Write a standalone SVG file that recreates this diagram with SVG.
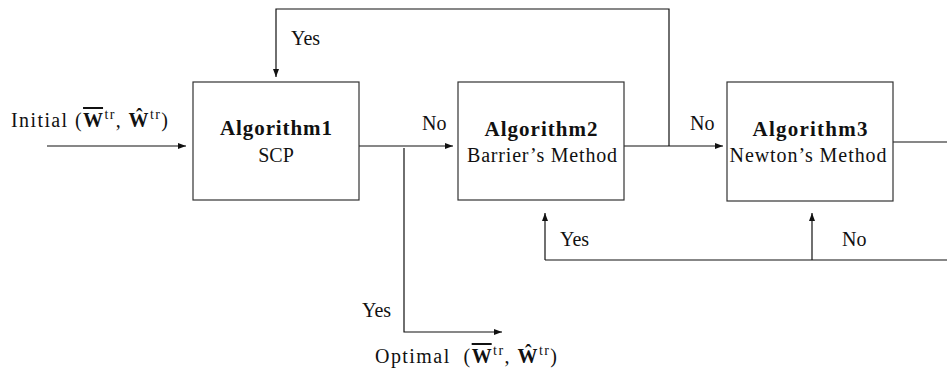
<svg xmlns="http://www.w3.org/2000/svg" width="947" height="372" viewBox="0 0 947 372">
<defs>
<marker id="ah" viewBox="0 0 8 6" refX="8" refY="3" markerWidth="8" markerHeight="6" markerUnits="userSpaceOnUse" orient="auto">
<path d="M0,0 L8,3 L0,6 z" fill="#111"/>
</marker>
<style>
.box{fill:#fff;stroke:#333;stroke-width:1.2}
.ln{fill:none;stroke:#111;stroke-width:1.2}
.arr{fill:none;stroke:#111;stroke-width:1.2;marker-end:url(#ah)}
text{font-family:"Liberation Serif","DejaVu Serif",serif;font-size:20px;fill:#111}
.b{font-weight:bold;font-size:21px}
.sup{font-size:14px}
.ov{text-decoration:overline}
</style>
</defs>
<rect width="947" height="372" fill="#fff"/>
<g id="connectors">
<line class="arr" x1="47" y1="146" x2="186" y2="146"/>
<line class="arr" x1="359" y1="146" x2="453" y2="146"/>
<line class="arr" x1="624" y1="146" x2="723" y2="146"/>
<polyline class="arr" points="669,146 669,9 276,9 276,77"/>
<line class="ln" x1="893" y1="142" x2="947" y2="142"/>
<line class="ln" x1="545" y1="260" x2="947" y2="260"/>
<line class="arr" x1="545" y1="260" x2="545" y2="213"/>
<line class="arr" x1="812" y1="260" x2="812" y2="213"/>
<polyline class="arr" points="404,148 404,332 502,332"/>
</g>
<g id="labels">
<text x="11" y="127" textLength="157">Initial (<tspan class="b ov" style="font-size:20px">W</tspan><tspan class="sup" dy="-8">tr</tspan><tspan dy="8">, </tspan><tspan class="b" style="font-size:20px">Ŵ</tspan><tspan class="sup" dy="-8">tr</tspan><tspan dy="8">)</tspan></text>
<text x="291" y="45">Yes</text>
<text x="422" y="130">No</text>
<text x="690" y="130">No</text>
<text x="560" y="246">Yes</text>
<text x="842" y="246">No</text>
<text x="362" y="317">Yes</text>
<text x="375" y="363" textLength="182">Optimal&#160;&#160;(<tspan class="b ov" style="font-size:20px">W</tspan><tspan class="sup" dy="-8">tr</tspan><tspan dy="8">, </tspan><tspan class="b" style="font-size:20px">Ŵ</tspan><tspan class="sup" dy="-8">tr</tspan><tspan dy="8">)</tspan></text>
</g>
<g id="alg1">
<rect class="box" x="193" y="82" width="166" height="118"/>
<text class="b" x="276" y="135" text-anchor="middle" textLength="112">Algorithm1</text>
<text x="276" y="162" text-anchor="middle">SCP</text>
</g>
<g id="alg2">
<rect class="box" x="458" y="82" width="166" height="118"/>
<text class="b" x="541" y="136" text-anchor="middle" textLength="113">Algorithm2</text>
<text x="542" y="162" text-anchor="middle" textLength="150">Barrier’s Method</text>
</g>
<g id="alg3">
<rect class="box" x="727" y="82" width="166" height="119"/>
<text class="b" x="810" y="136" text-anchor="middle" textLength="115">Algorithm3</text>
<text x="808" y="162" text-anchor="middle" textLength="157">Newton’s Method</text>
</g>
</svg>
